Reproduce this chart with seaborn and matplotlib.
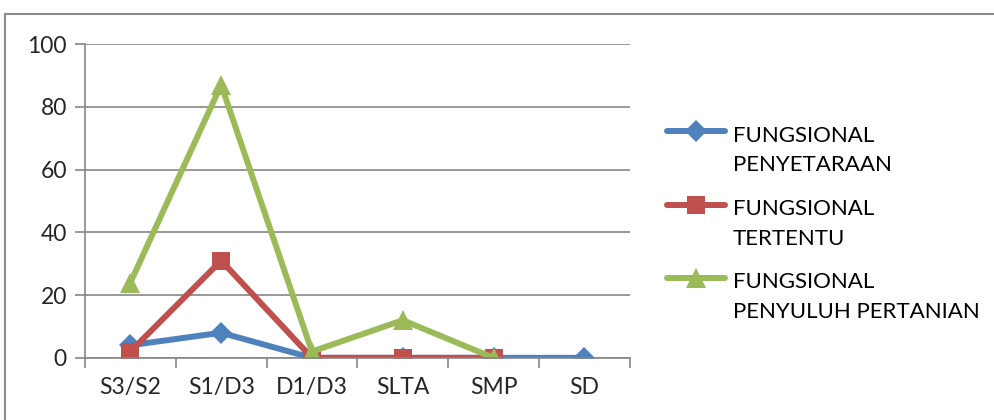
import numpy as np
import pandas as pd
import matplotlib
matplotlib.use("Agg")
import matplotlib.pyplot as plt
from matplotlib.patches import Rectangle
from matplotlib.lines import Line2D
import seaborn as sns

# data
categories = ["S3/S2", "S1/D3", "D1/D3", "SLTA", "SMP", "SD"]
penyetaraan = [4, 8, 0, 0, 0, 0]
tertentu = [2, 31, 0, 0, 0, np.nan]
penyuluh = [24, 87, 2, 12, 0, np.nan]

series_names = [["FUNGSIONAL", "PENYETARAAN"], ["FUNGSIONAL", "TERTENTU"],
                ["FUNGSIONAL", "PENYULUH PERTANIAN"]]
series_vals = [penyetaraan, tertentu, penyuluh]
colors = ["#4F81BD", "#C0504D", "#9BBB59"]
markers = ["D", "s", "^"]
msizes = [11, 13, 15]

sns.set_style("white")
plt.rcParams["font.family"] = ["Lato", "DejaVu Sans"]

fig = plt.figure(figsize=(9.94, 4.2), dpi=100)
ax = fig.add_axes([0.0855, 0.148, 0.548, 0.747])

# outer chart border
fig.patches.append(Rectangle((0.005, -0.1), 1.2, 1.067, transform=fig.transFigure,
                             fill=False, edgecolor="#8c8c8c", linewidth=1.5))

for name, vals, c, m, ms in zip(series_names, series_vals, colors, markers, msizes):
    df = pd.DataFrame({"x": np.arange(len(categories)), "y": vals})
    sns.lineplot(data=df, x="x", y="y", ax=ax, color=c, linewidth=4.3,
                 marker=m, markersize=ms, markeredgewidth=0, legend=False,
                 solid_capstyle="round")

ax.set_xlim(-0.5, len(categories) - 0.5)
ax.set_ylim(0, 100)
ax.set_yticks([0, 20, 40, 60, 80, 100])
ax.set_xticks(np.arange(len(categories)))
ax.set_xticklabels(categories)
ax.set_xticks(np.arange(-0.5, len(categories)), minor=True)
ax.set_xlabel("")
ax.set_ylabel("")
ax.yaxis.grid(True, color="#868686", linewidth=1.2)
ax.set_axisbelow(True)
for s in ["top", "right"]:
    ax.spines[s].set_visible(False)
for s in ["left", "bottom"]:
    ax.spines[s].set_color("#868686")
    ax.spines[s].set_linewidth(1.2)
ax.tick_params(axis="y", which="major", length=7, color="#868686", width=1.2,
               labelsize=16.5, pad=6, direction="out", left=True)
ax.tick_params(axis="x", which="major", length=0, labelsize=16.5, pad=14)
ax.tick_params(axis="x", which="minor", length=7, color="#868686", width=1.2,
               direction="out", bottom=True)

# legend drawn by hand so the key sits on the first text line (as in Excel)
H = 420.0
W = 994.0
handle_y = [131, 205, 278]
for name, c, m, ms, hy in zip(series_names, colors, markers, msizes, handle_y):
    fig.add_artist(Line2D([667 / W, 725 / W], [1 - hy / H, 1 - hy / H],
                          transform=fig.transFigure, color=c, linewidth=4.3,
                          solid_capstyle="round"))
    fig.add_artist(Line2D([696 / W], [1 - hy / H], transform=fig.transFigure,
                          color=c, marker=m, markersize=ms, markeredgewidth=0,
                          linestyle="none"))
    for i, line in enumerate(name):
        fig.text(733 / W, 1 - (hy + 10.5 + 29.5 * i) / H, line, fontsize=16,
                 va="baseline", ha="left", color="black")

fig.savefig("out.png", dpi=100)
